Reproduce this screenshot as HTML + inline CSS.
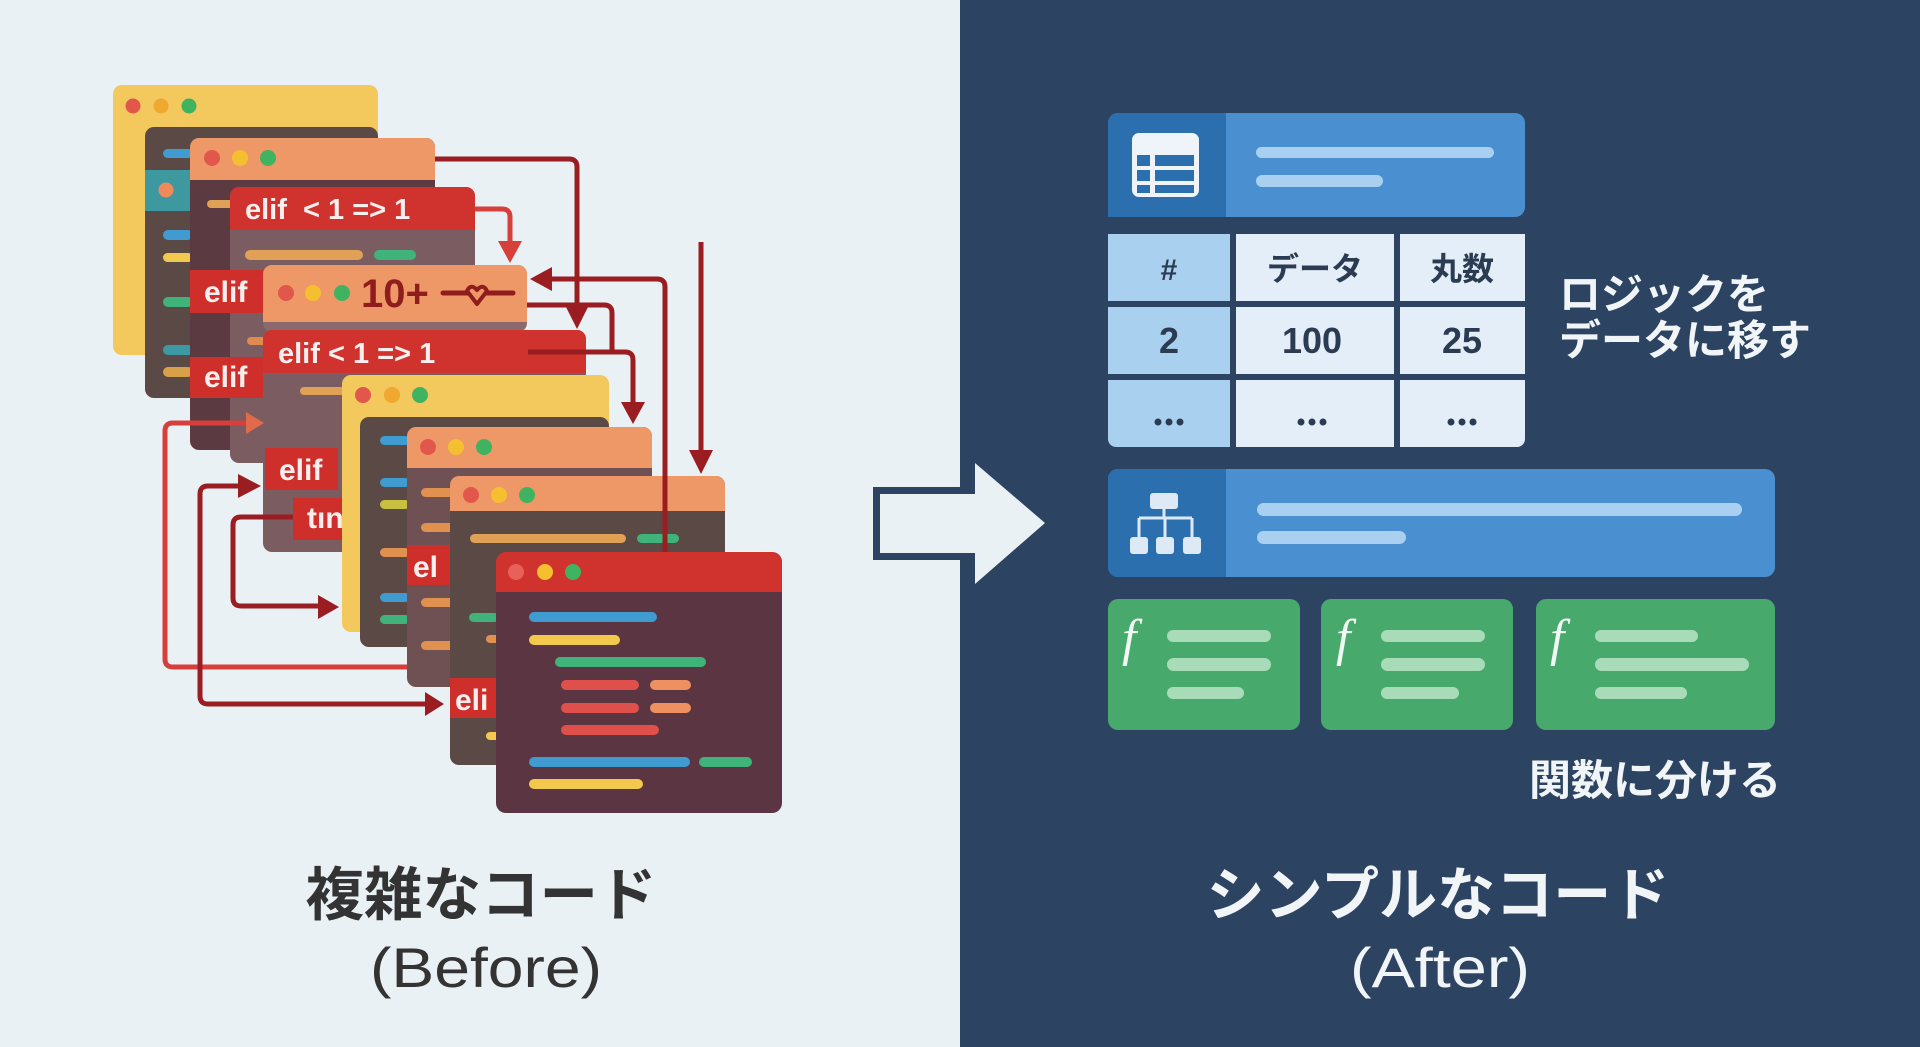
<!DOCTYPE html>
<html><head><meta charset="utf-8"><style>
html,body{margin:0;padding:0;width:1920px;height:1047px;overflow:hidden;background:#e9f1f5}
svg{display:block}
</style></head><body>
<svg width="1920" height="1047" viewBox="0 0 1920 1047" xmlns="http://www.w3.org/2000/svg">
<rect x="0" y="0" width="960" height="1047" fill="#e9f1f5"/>
<rect x="960" y="0" width="960" height="1047" fill="#2c4461"/>

<!-- W1 yellow -->
<rect x="113" y="85" width="265" height="270" rx="9" fill="#f3c85c"/>
<circle cx="133" cy="106" r="7.5" fill="#e2574c"/><circle cx="161" cy="106" r="7.5" fill="#f0a830"/><circle cx="189" cy="106" r="7.5" fill="#3fb35f"/>
<!-- W2 dark -->
<rect x="145" y="127" width="233" height="271" rx="9" fill="#5a4944"/>
<rect x="145" y="170" width="46" height="41" fill="#3d98a0"/>
<circle cx="166" cy="190" r="7.5" fill="#ef8a5a"/>
<rect x="163" y="149" width="30" height="9" rx="4.5" fill="#3f9bd0"/>
<rect x="163" y="230" width="30" height="10" rx="5" fill="#3f9bd0"/>
<rect x="163" y="253" width="30" height="9" rx="4.5" fill="#f2c94c"/>
<rect x="163" y="297" width="30" height="10" rx="5" fill="#3fb37a"/>
<rect x="163" y="345" width="30" height="10" rx="5" fill="#3d9aa5"/>
<rect x="163" y="367" width="30" height="10" rx="5" fill="#d9a04a"/>
<!-- W3 -->
<rect x="190" y="138" width="245" height="312" rx="9" fill="#5b3b41"/>
<rect x="190" y="138" width="245" height="42" rx="9" fill="#ee9868"/><rect x="190" y="170" width="245" height="10" fill="#ee9868"/>
<circle cx="212" cy="158" r="8" fill="#e2574c"/><circle cx="240" cy="158" r="8" fill="#f5c030"/><circle cx="268" cy="158" r="8" fill="#3fb35f"/>
<rect x="207" y="200" width="30" height="8" rx="4" fill="#e0a055"/>
<!-- W4 -->
<rect x="230" y="187" width="245" height="276" rx="9" fill="#7b5c60"/>
<rect x="230" y="187" width="245" height="43" rx="9" fill="#d0322e"/><rect x="230" y="220" width="245" height="10" fill="#d0322e"/>
<text x="245" y="219" font-family="Liberation Sans, sans-serif" font-weight="bold" font-size="29" fill="#fbeeee" xml:space="preserve">elif  &lt; 1 =&gt; 1</text>
<rect x="245" y="250" width="118" height="10" rx="5" fill="#e0a055"/>
<rect x="374" y="250" width="42" height="10" rx="5" fill="#3fb37a"/>
<rect x="247" y="337" width="22" height="8" rx="4" fill="#e08a50"/>
<!-- labels on W3/W4 -->
<rect x="190" y="270" width="73" height="43" fill="#cf2f2b"/>
<text x="204" y="302" font-family="Liberation Sans, sans-serif" font-weight="bold" font-size="30" fill="#fbeeee">elif</text>
<rect x="190" y="357" width="73" height="41" fill="#cf2f2b"/>
<text x="204" y="387" font-family="Liberation Sans, sans-serif" font-weight="bold" font-size="30" fill="#fbeeee">elif</text>
<!-- W5 -->
<rect x="263" y="265" width="264" height="67" rx="9" fill="#8a6a6c"/>
<rect x="263" y="265" width="264" height="57" rx="9" fill="#ee9868"/><rect x="263" y="310" width="264" height="12" fill="#ee9868"/>
<circle cx="286" cy="293" r="8" fill="#e2574c"/><circle cx="313" cy="293" r="8" fill="#f5c030"/><circle cx="342" cy="293" r="8" fill="#3fb35f"/>
<text x="361" y="307" font-family="Liberation Sans, sans-serif" font-weight="bold" font-size="40" fill="#8f1d1d">10+</text>
<line x1="443" y1="293" x2="513" y2="293" stroke="#8f1d1d" stroke-width="5" stroke-linecap="round"/>
<path d="M467,291 Q471,283 477,290 Q483,283 487,291 L477,304 Z" fill="#ee9868" stroke="#8f1d1d" stroke-width="4" stroke-linejoin="round"/>
<!-- W6 -->
<rect x="263" y="330" width="323" height="222" rx="9" fill="#7b5c60"/>
<rect x="263" y="330" width="323" height="43" rx="9" fill="#d0322e"/><rect x="263" y="363" width="323" height="10" fill="#d0322e"/>
<text x="278" y="363" font-family="Liberation Sans, sans-serif" font-weight="bold" font-size="29" fill="#fbeeee">elif &lt; 1 =&gt; 1</text>
<rect x="300" y="387" width="50" height="8" rx="4" fill="#e0a055"/>
<rect x="265" y="448" width="73" height="42" fill="#cf2f2b"/>
<text x="279" y="480" font-family="Liberation Sans, sans-serif" font-weight="bold" font-size="30" fill="#fbeeee">elif</text>
<rect x="293" y="498" width="49" height="42" fill="#cf2f2b"/>
<text x="307" y="528" font-family="Liberation Sans, sans-serif" font-weight="bold" font-size="30" fill="#fbeeee">tın</text>
<!-- W7 yellow -->
<rect x="342" y="375" width="267" height="257" rx="9" fill="#f3c85c"/>
<circle cx="363" cy="395" r="8" fill="#e2574c"/><circle cx="392" cy="395" r="8" fill="#f0a830"/><circle cx="420" cy="395" r="8" fill="#3fb35f"/>
<!-- W8 dark -->
<rect x="360" y="417" width="249" height="230" rx="9" fill="#5a4944"/>
<rect x="380" y="436" width="30" height="9" rx="4.5" fill="#3f9bd0"/>
<rect x="380" y="478" width="30" height="9" rx="4.5" fill="#3f9bd0"/>
<rect x="380" y="500" width="30" height="9" rx="4.5" fill="#c8c040"/>
<rect x="380" y="548" width="30" height="9" rx="4.5" fill="#e0904f"/>
<rect x="380" y="593" width="30" height="9" rx="4.5" fill="#3f9bd0"/>
<rect x="380" y="615" width="30" height="9" rx="4.5" fill="#3fb37a"/>
<!-- W9 -->
<rect x="407" y="427" width="245" height="260" rx="9" fill="#6f5154"/>
<rect x="407" y="427" width="245" height="41" rx="9" fill="#ee9868"/><rect x="407" y="458" width="245" height="10" fill="#ee9868"/>
<circle cx="428" cy="447" r="8" fill="#e2574c"/><circle cx="456" cy="447" r="8" fill="#f5c030"/><circle cx="484" cy="447" r="8" fill="#3fb35f"/>
<rect x="421" y="488" width="34" height="9" rx="4.5" fill="#e0904f"/>
<rect x="421" y="523" width="34" height="9" rx="4.5" fill="#e0904f"/>
<rect x="421" y="598" width="34" height="9" rx="4.5" fill="#e0904f"/>
<rect x="421" y="641" width="34" height="9" rx="4.5" fill="#e0904f"/>
<rect x="407" y="545" width="43" height="40" fill="#cf2f2b"/>
<text x="413" y="577" font-family="Liberation Sans, sans-serif" font-weight="bold" font-size="30" fill="#fbeeee">el</text>
<!-- W10 -->
<rect x="450" y="476" width="275" height="289" rx="9" fill="#5a4944"/>
<rect x="450" y="476" width="275" height="35" rx="9" fill="#ee9868"/><rect x="450" y="501" width="275" height="10" fill="#ee9868"/>
<circle cx="471" cy="495" r="8" fill="#e2574c"/><circle cx="499" cy="495" r="8" fill="#f5c030"/><circle cx="527" cy="495" r="8" fill="#3fb35f"/>
<rect x="470" y="534" width="156" height="9" rx="4.5" fill="#e0a055"/>
<rect x="637" y="534" width="42" height="9" rx="4.5" fill="#3fb37a"/>
<rect x="469" y="613" width="30" height="9" rx="4.5" fill="#3fb37a"/>
<rect x="486" y="635" width="14" height="8" rx="4" fill="#e0904f"/>
<rect x="486" y="732" width="14" height="8" rx="4" fill="#f2c94c"/>
<rect x="450" y="678" width="46" height="40" fill="#cf2f2b"/>
<text x="455" y="710" font-family="Liberation Sans, sans-serif" font-weight="bold" font-size="30" fill="#fbeeee">eli</text>

<!-- connectors -->
<g fill="none" stroke-width="5" stroke-linejoin="round" stroke-linecap="butt">
<path d="M435,159 H569 Q577,159 577,167 V309" stroke="#9a1d22"/>
<path d="M475,209 H502 Q510,209 510,217 V243" stroke="#d7403a"/>
<path d="M550,279 H657 Q665,279 665,287 V552" stroke="#9a1d22"/>
<path d="M527,305 H604 Q612,305 612,313 V352" stroke="#9a1d22"/>
<path d="M528,352 H625 Q633,352 633,360 V404" stroke="#9a1d22"/>
<path d="M701,242 V452" stroke="#9a1d22"/>
<path d="M250,423 H173 Q165,423 165,431 V659 Q165,667 173,667 H407" stroke="#d7403a"/>
<path d="M240,486 H208 Q200,486 200,494 V696 Q200,704 208,704 H428" stroke="#9a1d22"/>
<path d="M293,517 H241 Q233,517 233,525 V598 Q233,606 241,606 H320" stroke="#9a1d22"/>
</g>
<g stroke="none">
<polygon points="566,307 588,307 577,329" fill="#9a1d22"/>
<polygon points="498,241 522,241 510,263" fill="#d7403a"/>
<polygon points="552,267 552,291 530,279" fill="#9a1d22"/>
<polygon points="621,402 645,402 633,424" fill="#9a1d22"/>
<polygon points="689,450 713,450 701,474" fill="#9a1d22"/>
<polygon points="238,474 238,498 261,486" fill="#9a1d22"/>
<polygon points="425,692 425,716 444,704" fill="#9a1d22"/>
<polygon points="318,595 318,619 339,607" fill="#9a1d22"/>
<polygon points="246,412 246,434 264,423" fill="#e06a4a"/>
</g>

<!-- W11 front -->
<rect x="496" y="552" width="286" height="261" rx="10" fill="#5b3541"/>
<rect x="496" y="552" width="286" height="40" rx="10" fill="#d0322e"/><rect x="496" y="580" width="286" height="12" fill="#d0322e"/>
<circle cx="516" cy="572" r="8" fill="#e8605a"/><circle cx="545" cy="572" r="8" fill="#f5c030"/><circle cx="573" cy="572" r="8" fill="#3fb35f"/>
<rect x="529" y="612" width="128" height="10" rx="5" fill="#3f9bd0"/>
<rect x="529" y="635" width="91" height="10" rx="5" fill="#f2c94c"/>
<rect x="555" y="657" width="151" height="10" rx="5" fill="#3fb37a"/>
<rect x="561" y="680" width="78" height="10" rx="5" fill="#e0504a"/>
<rect x="650" y="680" width="41" height="10" rx="5" fill="#ee9060"/>
<rect x="561" y="703" width="78" height="10" rx="5" fill="#e0504a"/>
<rect x="650" y="703" width="41" height="10" rx="5" fill="#ee9060"/>
<rect x="561" y="725" width="98" height="10" rx="5" fill="#e0504a"/>
<rect x="529" y="757" width="161" height="10" rx="5" fill="#3f9bd0"/>
<rect x="699" y="757" width="53" height="10" rx="5" fill="#3fb37a"/>
<rect x="529" y="779" width="114" height="10" rx="5" fill="#f2c94c"/>

<!-- center arrow -->
<rect x="873" y="487" width="90" height="73" fill="#2c4461"/>
<polygon points="880,494 975,494 975,463 1045,523 975,584 975,553 880,553" fill="#e9f1f5"/>

<!-- titles left -->
<text x="481" y="915" text-anchor="middle" font-family="Liberation Sans, Noto Sans CJK JP, sans-serif" font-weight="bold" font-size="58" fill="#333333" textLength="351" lengthAdjust="spacingAndGlyphs">複雑なコード</text>
<text x="486" y="987" text-anchor="middle" font-family="Liberation Sans, Noto Sans CJK JP, sans-serif" font-size="56" fill="#333333" textLength="232" lengthAdjust="spacingAndGlyphs">(Before)</text>

<!-- right: table card -->
<rect x="1108" y="113" width="417" height="104" rx="10" fill="#4a8fd0"/>
<rect x="1108" y="113" width="118" height="104" rx="10" fill="#2b6fae"/>
<rect x="1200" y="113" width="26" height="104" fill="#2b6fae"/>
<rect x="1108" y="200" width="40" height="17" fill="#2b6fae"/>
<rect x="1256" y="147" width="238" height="11" rx="5.5" fill="#a9d0f0"/>
<rect x="1256" y="175" width="127" height="12" rx="6" fill="#a9d0f0"/>
<rect x="1132" y="133" width="67" height="64" rx="7" fill="#eef4fa"/>
<rect x="1137" y="155" width="13" height="11" fill="#2b6fae"/><rect x="1155" y="155" width="39" height="11" fill="#2b6fae"/>
<rect x="1137" y="170" width="13" height="11" fill="#2b6fae"/><rect x="1155" y="170" width="39" height="11" fill="#2b6fae"/>
<rect x="1137" y="185" width="13" height="8" fill="#2b6fae"/><rect x="1155" y="185" width="39" height="8" fill="#2b6fae"/>

<g>
<rect x="1108" y="234" width="122" height="67" fill="#a9d0ee"/>
<rect x="1236" y="234" width="158" height="67" fill="#e3eef8"/>
<rect x="1400" y="234" width="125" height="67" fill="#e3eef8"/>
<rect x="1108" y="307" width="122" height="67" fill="#a9d0ee"/>
<rect x="1236" y="307" width="158" height="67" fill="#e3eef8"/>
<rect x="1400" y="307" width="125" height="67" fill="#e3eef8"/>
<rect x="1108" y="380" width="122" height="67" rx="8" fill="#a9d0ee"/>
<rect x="1122" y="380" width="108" height="67" fill="#a9d0ee"/>
<rect x="1108" y="380" width="122" height="30" fill="#a9d0ee"/>
<rect x="1236" y="380" width="158" height="67" fill="#e3eef8"/>
<rect x="1400" y="380" width="125" height="67" rx="8" fill="#e3eef8"/>
<rect x="1400" y="380" width="110" height="67" fill="#e3eef8"/>
<rect x="1400" y="380" width="125" height="30" fill="#e3eef8"/>
</g>
<g font-family="Liberation Sans, Noto Sans CJK JP, sans-serif" font-weight="bold" fill="#2b3c52" text-anchor="middle">
<text x="1169" y="280" font-size="30">#</text>
<text x="1315" y="280" font-size="32">データ</text>
<text x="1462" y="280" font-size="32">丸数</text>
<text x="1169" y="353" font-size="36">2</text>
<text x="1312" y="353" font-size="36">100</text>
<text x="1462" y="353" font-size="36">25</text>
</g>
<g fill="#2b3c52">
<circle cx="1158" cy="422" r="3.5"/><circle cx="1169" cy="422" r="3.5"/><circle cx="1180" cy="422" r="3.5"/>
<circle cx="1301" cy="422" r="3.5"/><circle cx="1312" cy="422" r="3.5"/><circle cx="1323" cy="422" r="3.5"/>
<circle cx="1451" cy="422" r="3.5"/><circle cx="1462" cy="422" r="3.5"/><circle cx="1473" cy="422" r="3.5"/>
</g>
<text x="1559" y="309" font-family="Liberation Sans, Noto Sans CJK JP, sans-serif" font-weight="bold" font-size="42" fill="#f2f5f8">ロジックを</text>
<text x="1559" y="355" font-family="Liberation Sans, Noto Sans CJK JP, sans-serif" font-weight="bold" font-size="42" fill="#f2f5f8">データに移す</text>

<!-- blue bar -->
<rect x="1108" y="469" width="667" height="108" rx="10" fill="#4a8fd0"/>
<rect x="1108" y="469" width="118" height="108" rx="10" fill="#2b6fae"/>
<rect x="1200" y="469" width="26" height="108" fill="#2b6fae"/>
<rect x="1257" y="503" width="485" height="13" rx="6.5" fill="#a9d0f0"/>
<rect x="1257" y="531" width="149" height="13" rx="6.5" fill="#a9d0f0"/>
<g fill="#dde9f5" stroke="none">
<rect x="1150" y="493" width="28" height="16" rx="3"/>
<rect x="1130" y="537" width="18" height="17" rx="3"/>
<rect x="1156" y="537" width="18" height="17" rx="3"/>
<rect x="1183" y="537" width="18" height="17" rx="3"/>
</g>
<g stroke="#dde9f5" stroke-width="3" fill="none">
<path d="M1164,509 V518 M1139,518 H1192 M1139,518 V537 M1165,518 V537 M1192,518 V537"/>
</g>

<!-- green cards -->
<rect x="1108" y="599" width="192" height="131" rx="10" fill="#48a96c"/>
<rect x="1321" y="599" width="192" height="131" rx="10" fill="#48a96c"/>
<rect x="1536" y="599" width="239" height="131" rx="10" fill="#48a96c"/>
<g font-family="Liberation Serif, serif" font-style="italic" font-size="52" fill="#f2f8f3">
<text x="1122" y="655">f</text>
<text x="1336" y="655">f</text>
<text x="1550" y="655">f</text>
</g>
<g fill="#a8dcb9">
<rect x="1167" y="630" width="104" height="12" rx="6"/>
<rect x="1167" y="658" width="104" height="13" rx="6.5"/>
<rect x="1167" y="687" width="77" height="12" rx="6"/>
<rect x="1381" y="630" width="104" height="12" rx="6"/>
<rect x="1381" y="658" width="104" height="13" rx="6.5"/>
<rect x="1381" y="687" width="78" height="12" rx="6"/>
<rect x="1595" y="630" width="103" height="12" rx="6"/>
<rect x="1595" y="658" width="154" height="13" rx="6.5"/>
<rect x="1595" y="687" width="92" height="12" rx="6"/>
</g>
<text x="1781" y="795" text-anchor="end" font-family="Liberation Sans, Noto Sans CJK JP, sans-serif" font-weight="bold" font-size="42" fill="#f2f5f8">関数に分ける</text>

<!-- titles right -->
<text x="1438" y="915" text-anchor="middle" font-family="Liberation Sans, Noto Sans CJK JP, sans-serif" font-weight="bold" font-size="58" fill="#f2f5f8" textLength="463" lengthAdjust="spacingAndGlyphs">シンプルなコード</text>
<text x="1440" y="987" text-anchor="middle" font-family="Liberation Sans, Noto Sans CJK JP, sans-serif" font-size="56" fill="#f2f5f8" textLength="180" lengthAdjust="spacingAndGlyphs">(After)</text>
</svg>
</body></html>
